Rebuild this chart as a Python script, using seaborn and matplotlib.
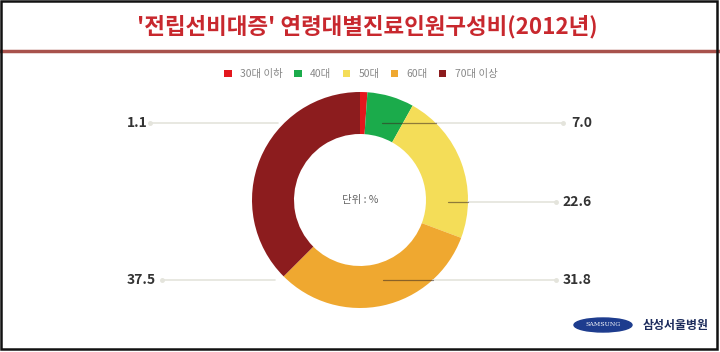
import numpy as np
import matplotlib
matplotlib.use("Agg")
import matplotlib.pyplot as plt
import seaborn as sns
from matplotlib.patches import Ellipse, Rectangle

# data
age_groups = ["30대 이하", "40대", "50대", "60대", "70대 이상"]
shares = [1.1, 7.0, 22.6, 31.8, 37.5]
colors = ["#e3171d", "#1bab4b", "#f4dd58", "#efa830", "#8c1c1e"]
title = "'전립선비대증' 연령대별진료인원구성비(2012년)"

# label layout (pixel coords, y from top): text x, line start, line end, y, side
label_pos = [
    (127, 150, 278, 123, "left"),    # 30대 이하
    (592, 563, 382, 123, "right"),   # 40대
    (592, 556, 448, 202, "right"),   # 50대
    (592, 556, 383, 280, "right"),   # 60대
    (127, 162, 275, 280, "left"),    # 70대 이상
]

sns.set_theme(style="white")
plt.rcParams["font.family"] = ["Noto Sans CJK KR", "DejaVu Sans"]

W, H = 720, 352
fig = plt.figure(figsize=(W / 100, H / 100), dpi=100)
ax = fig.add_axes([0, 0, 1, 1])

cx, cy, R, ring = 360, H - 200, 108, 42
wedges, _ = ax.pie(shares, colors=colors, startangle=90, counterclock=False,
                   center=(cx, cy), radius=R,
                   wedgeprops=dict(width=ring, linewidth=0))
ax.set_xlim(0, W)
ax.set_ylim(0, H)
ax.set_aspect("auto")
ax.axis("off")

# leader lines + values
for val, (tx, x0, x1, yt, side) in zip(shares, label_pos):
    y = H - yt
    dy = y - cy
    edge = np.sqrt(max(R ** 2 - dy ** 2, 0))
    if side == "right":
        xe = cx + edge
        ax.plot([xe, x0], [y, y], color="#e4e4dc", lw=1.2, zorder=1,
                solid_capstyle="round")
        if x1 < xe:
            ax.plot([x1, xe], [y, y], color="#3a2a20", lw=0.9, alpha=0.55, zorder=5)
        ax.plot(x0, y, "o", ms=2.5, color="#e4e4dc", zorder=1)
        ax.text(tx, y, f"{val:.1f}", ha="right", va="center", fontsize=10,
                fontweight="bold", color="#333333")
    else:
        ax.plot([x0, x1], [y, y], color="#e4e4dc", lw=1.2, zorder=1)
        ax.plot(x0, y, "o", ms=2.5, color="#e4e4dc", zorder=1)
        ax.text(tx, y, f"{val:.1f}", ha="left", va="center", fontsize=10,
                fontweight="bold", color="#333333")

ax.text(cx, cy, "단위 : %", ha="center", va="center", fontsize=7.5, color="#666666")

# title + rule
ax.text(W / 2 + 7, H - 27, title, ha="center", va="center", fontsize=16.2,
        fontweight="bold", color="#c8282e")
ax.plot([0, W], [H - 51, H - 51], color="#a8524c", lw=2.5)

# legend
leg = ax.legend(wedges, age_groups, loc="center", bbox_to_anchor=(361 / W, 1 - 74 / H),
                ncol=5, frameon=False, fontsize=7.5, handlelength=0.7,
                handleheight=0.7, handletextpad=0.8, columnspacing=1.1)
for t in leg.get_texts():
    t.set_color("#888888")

# hospital mark
ax.add_patch(Ellipse((603, H - 325), 58, 14, color="#1d3c8e"))
ax.text(603, H - 325, "SAMSUNG", ha="center", va="center", fontsize=4.5,
        color="white", family="DejaVu Serif")
ax.text(676, H - 325, "삼성서울병원", ha="center", va="center", fontsize=8.6,
        fontweight="bold", color="#1c2b5c")

# frame
ax.add_patch(Rectangle((1, 3), 716, 348, fill=False, ec="#111111", lw=1.8,
                       zorder=10))

fig.savefig("out.png", dpi=100)
